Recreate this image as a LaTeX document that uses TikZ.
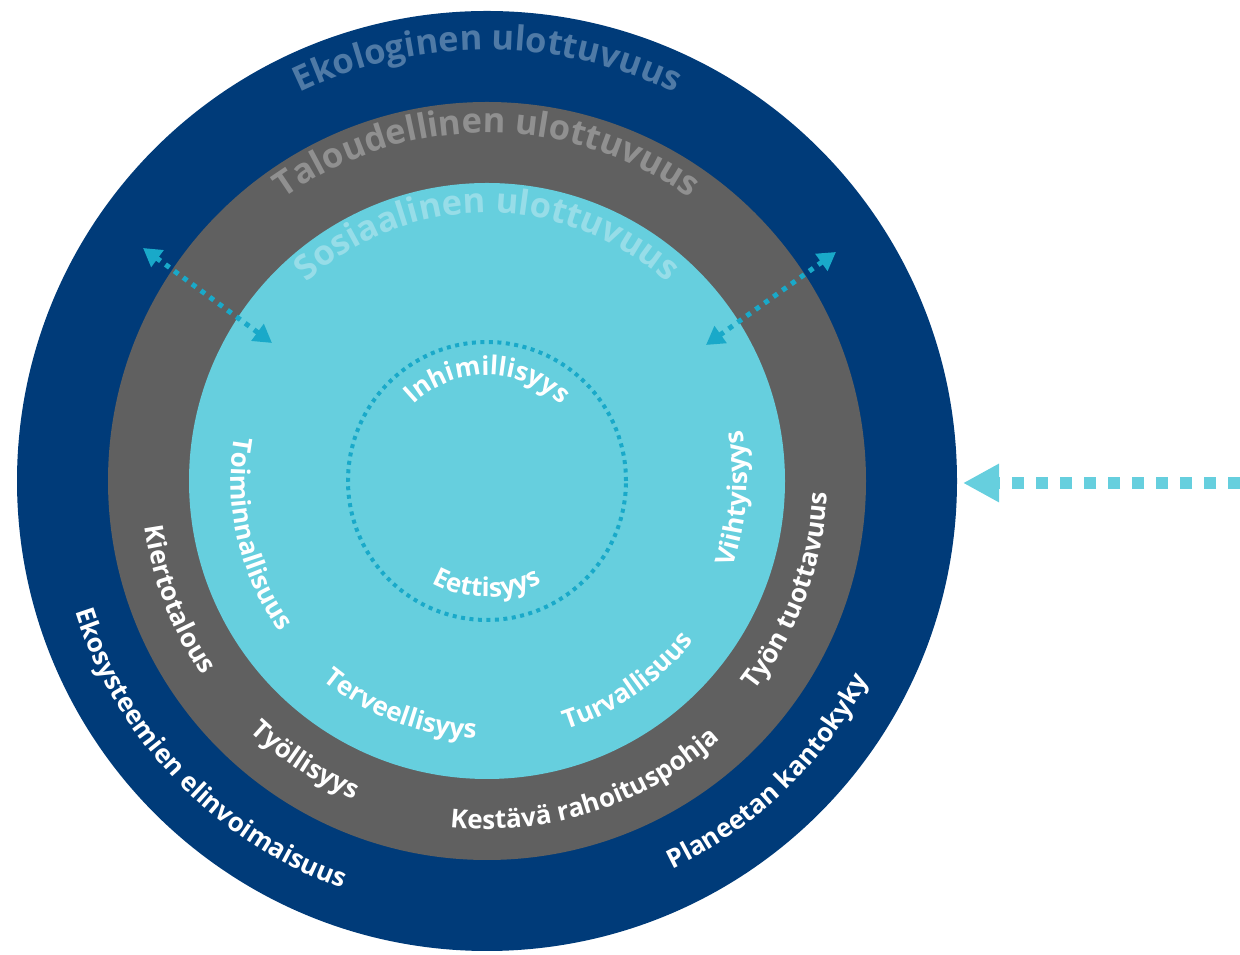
\documentclass[tikz,border=0pt]{standalone}
\usepackage{fontspec}
\setmainfont{Open Sans}
\usetikzlibrary{decorations.text,arrows.meta}
\definecolor{ekoblue}{HTML}{003B79}
\definecolor{talgray}{HTML}{606060}
\definecolor{sosblue}{HTML}{66CFDE}
\definecolor{dotblue}{HTML}{19A9C9}
\definecolor{ekotext}{HTML}{4F7AA6}
\definecolor{taltext}{HTML}{909090}
\definecolor{sostext}{HTML}{97DDE8}
\newcommand{\ringtitle}{\fontsize{34.5}{34.5}\selectfont\bfseries}
\newcommand{\ringlabel}{\fontsize{26}{26}\selectfont\bfseries}

\begin{document}
\begin{tikzpicture}[x=1pt,y=1pt,
		arctext/.style={decorate,decoration={text along path,text align=center,text={#1}}},
		dotarrow/.style={dotblue,line width=5pt,dash pattern=on 5pt off 6pt,{Triangle[width=20pt,length=18pt]}-{Triangle[width=20pt,length=18pt]}}]
		\useasboundingbox (0,0) rectangle (1240,955);
		\coordinate (C) at (487,474);
		\fill[ekoblue] (C) circle (470pt);
		\fill[talgray] (C) circle (379pt);
		\fill[sosblue] (C) circle (298pt);
		\draw[dotblue,line width=4pt,dash pattern=on 4pt off 4.5pt] (C) circle (139pt);
		\coordinate (lo) at (143,707);
		\coordinate (li) at (272,612);
		\coordinate (ri) at (706,610);
		\coordinate (ro) at (836,703);
		\draw[dotarrow] (lo) -- (li);
		\draw[dotarrow] (ri) -- (ro);
		\coordinate (bigstart) at (1240,472);
		\coordinate (bigtip) at (963,472);
		\draw[sosblue,line width=12pt,dash pattern=on 12pt off 12pt,-{Triangle[width=36pt,length=36pt]}] (bigstart) -- (bigtip);
		\path[arctext={|\ringtitle\color{ekotext}|Ekologinen ulottuvuus}] (C) ++(150:431pt) arc[start angle=150,end angle=30,radius=431pt];
		\path[arctext={|\ringtitle\color{taltext}|Taloudellinen ulottuvuus}] (C) ++(150:348pt) arc[start angle=150,end angle=30,radius=348pt];
		\path[arctext={|\ringtitle\color{sostext}|Sosiaalinen ulottuvuus}] (C) ++(150:268pt) arc[start angle=150,end angle=30,radius=268pt];
		\path[arctext={|\ringlabel\color{white}|Inhimillisyys}] (C) ++(150:106pt) arc[start angle=150,end angle=30,radius=106pt];
		\path[arctext={|\ringlabel\color{white}|Eettisyys}] (C) ++(220:116pt) arc[start angle=220,end angle=320,radius=116pt];
		\path[arctext={|\ringlabel\color{white}|Toiminnallisuus}] (C) ++(153:256pt) arc[start angle=153,end angle=233,radius=256pt];
		\path[arctext={|\ringlabel\color{white}|Terveellisyys}] (C) ++(209:258pt) arc[start angle=209,end angle=289,radius=258pt];
		\path[arctext={|\ringlabel\color{white}|Turvallisuus}] (C) ++(265:261pt) arc[start angle=265,end angle=345,radius=261pt];
		\path[arctext={|\ringlabel\color{white}|Viihtyisyys}] (C) ++(316:260pt) arc[start angle=316,end angle=396,radius=260pt];
		\path[arctext={|\ringlabel\color{white}|Kiertotalous}] (C) ++(161:345pt) arc[start angle=161,end angle=241,radius=345pt];
		\path[arctext={|\ringlabel\color{white}|Työllisyys}] (C) ++(197:345pt) arc[start angle=197,end angle=277,radius=345pt];
		\path[arctext={|\ringlabel\color{white}|Kestävä rahoituspohja}] (C) ++(248:348pt) arc[start angle=248,end angle=328,radius=348pt];
		\path[arctext={|\ringlabel\color{white}|Työn tuottavuus}] (C) ++(300:340pt) arc[start angle=300,end angle=380,radius=340pt];
		\path[arctext={|\ringlabel\color{white}|Ekosysteemien elinvoimaisuus}] (C) ++(184:432pt) arc[start angle=184,end angle=264,radius=432pt];
		\path[arctext={|\ringlabel\color{white}|Planeetan kantokyky}] (C) ++(274:430pt) arc[start angle=274,end angle=354,radius=430pt];
	\end{tikzpicture}
\end{document}
